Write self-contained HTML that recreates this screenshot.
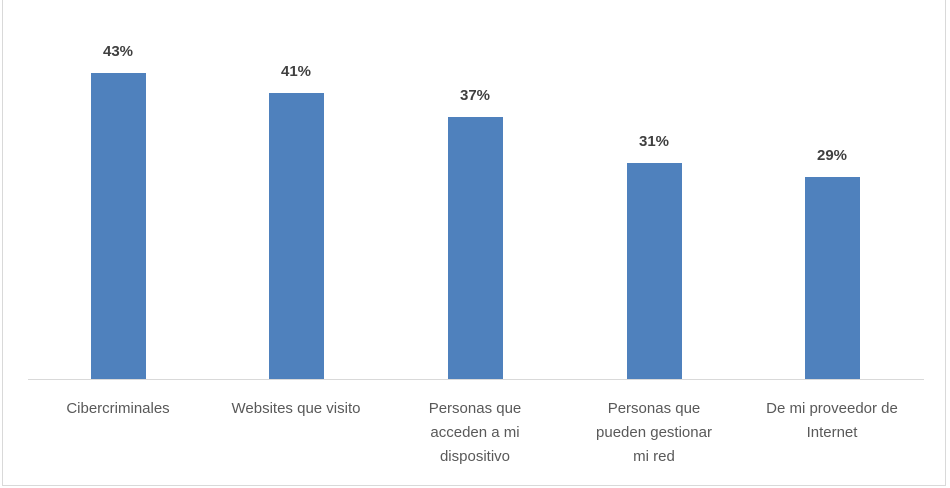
<!DOCTYPE html>
<html><head><style>
body{margin:0;width:950px;height:488px;background:#fff;overflow:hidden;font-family:"Liberation Sans",sans-serif}
.frame{position:absolute;left:2px;top:0;width:942px;height:485px;border:1px solid #d9d9d9;border-top:none}
.bar{position:absolute;background:#4f81bd;width:55px;bottom:109px}
.v{position:absolute;width:100px;text-align:center;font-weight:bold;font-size:15px;color:#404040}
.l{position:absolute;width:170px;text-align:center;font-size:15px;line-height:24px;color:#595959}
.axis{position:absolute;left:28px;width:896px;top:379px;height:1px;background:#d9d9d9}
</style></head><body>
<div class="frame"></div>
<div class="axis"></div>
<div class="bar" style="left:91px;top:73px;height:306px"></div>
<div class="bar" style="left:269px;top:93px;height:286px"></div>
<div class="bar" style="left:448px;top:117px;height:262px"></div>
<div class="bar" style="left:627px;top:163px;height:216px"></div>
<div class="bar" style="left:805px;top:177px;height:202px"></div>
<div class="v" style="left:68px;top:43px">43%</div>
<div class="v" style="left:246px;top:63px">41%</div>
<div class="v" style="left:425px;top:87px">37%</div>
<div class="v" style="left:604px;top:133px">31%</div>
<div class="v" style="left:782px;top:147px">29%</div>
<div class="l" style="left:33px;top:397px">Cibercriminales</div>
<div class="l" style="left:211px;top:397px">Websites que visito</div>
<div class="l" style="left:390px;top:397px">Personas que<br>acceden a mi<br>dispositivo</div>
<div class="l" style="left:569px;top:397px">Personas que<br>pueden gestionar<br>mi red</div>
<div class="l" style="left:747px;top:397px">De mi proveedor de<br>Internet</div>
</body></html>
